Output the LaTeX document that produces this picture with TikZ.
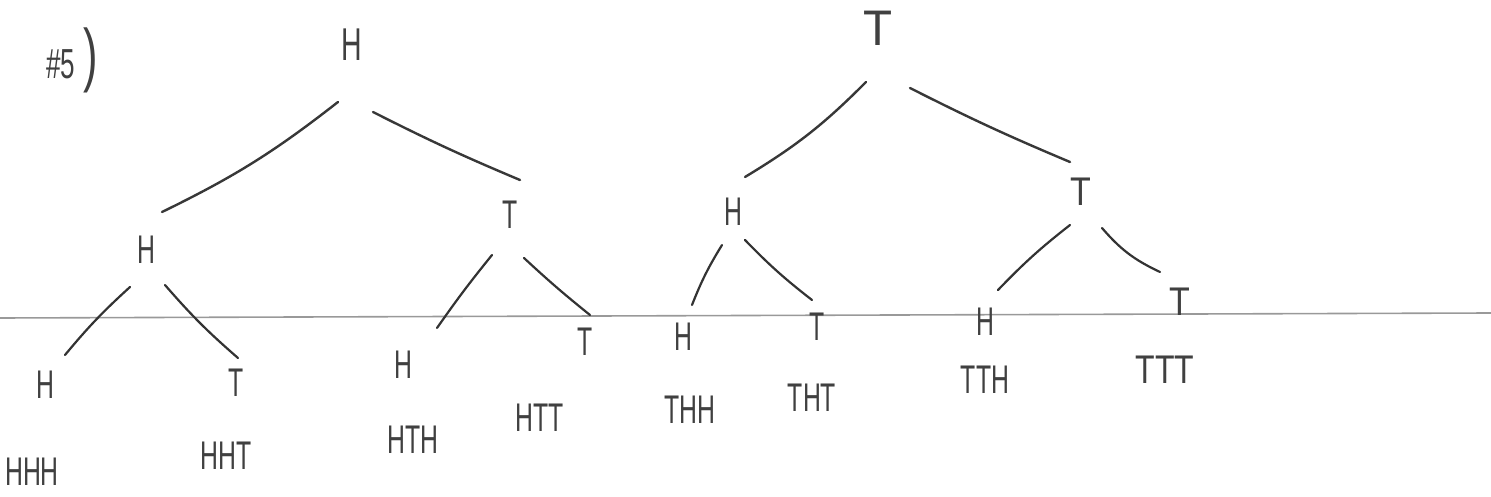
\documentclass[tikz,border=0pt]{standalone}
\usepackage{fontspec}
\setmainfont{Liberation Sans}
% hand-lettered look: letters tall and condensed
\newcommand{\cond}[1]{\scalebox{0.62}[1]{#1}}
\begin{document}
\begin{tikzpicture}[x=1pt,y=-1pt,
  coin/.style={inner sep=0pt, text=black!75, font=\fontsize{40}{40}\selectfont},
  bigcoin/.style={coin, font=\fontsize{46}{46}\selectfont},
  outcome/.style={inner sep=0pt, text=black!75, font=\fontsize{40}{40}\selectfont},
  branch/.style={draw=black!78, line width=2.4pt, line cap=round},
  twig/.style={draw=black!80, line width=2.2pt, line cap=round},
  rule/.style={draw=black!40, line width=1.6pt}]
\useasboundingbox (0,0) rectangle (1491,497);

% problem number
\node[inner sep=0pt, text=black!75, font=\fontsize{42}{42}\selectfont] (num) at (72,60)
  {\cond{\#5}\hspace{8pt}{\fontsize{70}{70}\selectfont\cond{)}}};

% ruled line of the paper
\draw[rule] (0,318) -- (1491,313);

% first toss
\node[bigcoin] (rH) at (352,45) {\cond{H}};
\node[bigcoin, font=\fontsize{50}{50}\selectfont] (rT) at (878,28) {\scalebox{0.95}[1]{T}};

% second toss
\node[coin] (aH) at (146,250) {\cond{H}};
\node[coin] (aT) at (510,215) {\cond{T}};
\node[coin] (bH) at (733,212) {\cond{H}};
\node[coin] (bT) at (1081,192) {\scalebox{0.85}[1]{T}};

% third toss
\node[coin] (aaH) at (45,385) {\cond{H}};
\node[coin] (aaT) at (236,383) {\cond{T}};
\node[coin] (atH) at (403,365) {\cond{H}};
\node[coin] (atT) at (585,342) {\cond{T}};
\node[coin] (bhH) at (683,337) {\cond{H}};
\node[coin] (bhT) at (817,327) {\cond{T}};
\node[coin] (btH) at (985,322) {\cond{H}};
\node[coin] (btT) at (1180,302) {\scalebox{0.85}[1]{T}};

% outcomes
\node[outcome] (oHHH) at (32,472) {\cond{HHH}};
\node[outcome] (oHHT) at (226,456) {\cond{HHT}};
\node[outcome] (oHTH) at (413,440) {\cond{HTH}};
\node[outcome] (oHTT) at (540,418) {\cond{HTT}};
\node[outcome] (oTHH) at (690,410) {\cond{THH}};
\node[outcome] (oTHT) at (812,398) {\cond{THT}};
\node[outcome] (oTTH) at (985,380) {\cond{TTH}};
\node[outcome] (oTTT) at (1165,370) {\scalebox{0.8}[1]{TTT}};

% branches from the first toss
\draw[branch] ([shift={(-14,57)}]rH.center) to[bend left=6] ([shift={(16,-38)}]aH.center);
\draw[branch] ([shift={(21,67)}]rH.center) to[bend right=2] ([shift={(10,-35)}]aT.center);
\draw[branch] ([shift={(-12,54)}]rT.center) to[bend left=7] ([shift={(12,-35)}]bH.center);
\draw[branch] ([shift={(32,60)}]rT.center) to[bend right=2] ([shift={(-11,-30)}]bT.center);

% branches from the second toss
\draw[twig] ([shift={(-16,37)}]aH.center) to[bend right=4] ([shift={(20,-30)}]aaH.center);
\draw[twig] ([shift={(19,35)}]aH.center) to[bend right=4] ([shift={(2,-25)}]aaT.center);
\draw[twig] ([shift={(-18,40)}]aT.center) to[bend right=2] ([shift={(34,-37)}]atH.center);
\draw[twig] ([shift={(14,43)}]aT.center) to[bend right=2] ([shift={(5,-27)}]atT.center);
\draw[twig] ([shift={(-11,33)}]bH.center) to[bend right=5] ([shift={(9,-32)}]bhH.center);
\draw[twig] ([shift={(12,28)}]bH.center) to[bend right=4] ([shift={(-5,-27)}]bhT.center);
\draw[twig] ([shift={(-11,33)}]bT.center) to[bend right=4] ([shift={(13,-32)}]btH.center);
\draw[twig] ([shift={(21,36)}]bT.center) to[bend right=12] ([shift={(-20,-30)}]btT.center);
\end{tikzpicture}
\end{document}
